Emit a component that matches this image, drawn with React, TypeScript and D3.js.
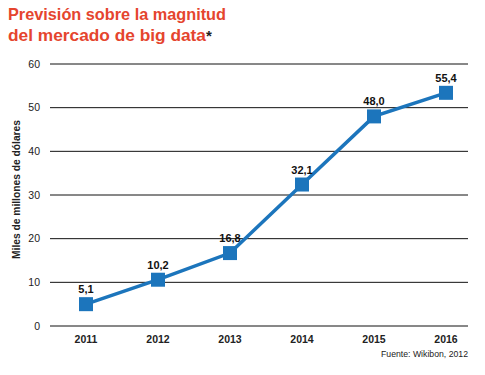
import React from "react";
import * as d3 from "d3";

const years = ["2011", "2012", "2013", "2014", "2015", "2016"];
const values = [5.0, 10.6, 16.7, 32.4, 48.0, 53.4];
const valueLabels = ["5,1", "10,2", "16,8", "32,1", "48,0", "55,4"];
const yTicks = [0, 10, 20, 30, 40, 50, 60];

export default function App() {
  const W = 485, H = 375;
  const x = d3.scalePoint<string>().domain(years).range([86, 446]);
  const y = d3.scaleLinear().domain([0, 60]).range([326, 64]);
  const line = d3.line<number>().x((_, i) => x(years[i])!).y((d) => y(d));
  const blue = "#1c75bc";
  const sans = "'Liberation Sans', Arial, sans-serif";
  return (
    <svg width={W} height={H} style={{ position: "absolute", left: 0, top: 0 }}>
      <rect width={W} height={H} fill="#fff" />
      <text x={8} y={20} fill="#e5452e" fontFamily={sans} fontWeight="bold" fontSize={17}
        textLength={218} lengthAdjust="spacingAndGlyphs">
        Previsión sobre la magnitud
      </text>
      <text x={8} y={41} fill="#e5452e" fontFamily={sans} fontWeight="bold" fontSize={17}
        textLength={198} lengthAdjust="spacingAndGlyphs">
        del mercado de big data
      </text>
      <text x={206} y={41} fill="#222" fontFamily={sans} fontWeight="bold" fontSize={15}>*</text>
      {yTicks.map((t) => (
        <g key={t}>
          <line x1={50} x2={468} y1={y(t)} y2={y(t)} stroke="#111" strokeWidth={1} />
          <text x={40} y={y(t)} dy="0.35em" textAnchor="end" fontFamily={sans} fontSize={10.5} fill="#222">
            {t}
          </text>
        </g>
      ))}
      <text
        transform={`translate(20,189.5) rotate(-90)`}
        textAnchor="middle"
        fontFamily={sans}
        fontWeight="bold"
        fontSize={10}
        fill="#222"
        textLength={139}
        lengthAdjust="spacingAndGlyphs"
      >
        Miles de millones de dólares
      </text>
      {years.map((yr) => (
        <text key={yr} x={x(yr)} y={343} textAnchor="middle" fontFamily={sans} fontWeight="bold" fontSize={10.5} fill="#222">
          {yr}
        </text>
      ))}
      <text x={468} y={357} textAnchor="end" fontFamily={sans} fontSize={9} fill="#222"
        textLength={87} lengthAdjust="spacingAndGlyphs">
        Fuente: Wikibon, 2012
      </text>
      <path d={line(values)!} fill="none" stroke={blue} strokeWidth={3.5} />
      {values.map((v, i) => (
        <g key={i}>
          <rect x={x(years[i])! - 7} y={y(v) - 7} width={14} height={14} fill={blue} />
          <text x={x(years[i])} y={y(v) - 11} textAnchor="middle" fontFamily={sans} fontWeight="bold" fontSize={11} fill="#111">
            {valueLabels[i]}
          </text>
        </g>
      ))}
    </svg>
  );
}
